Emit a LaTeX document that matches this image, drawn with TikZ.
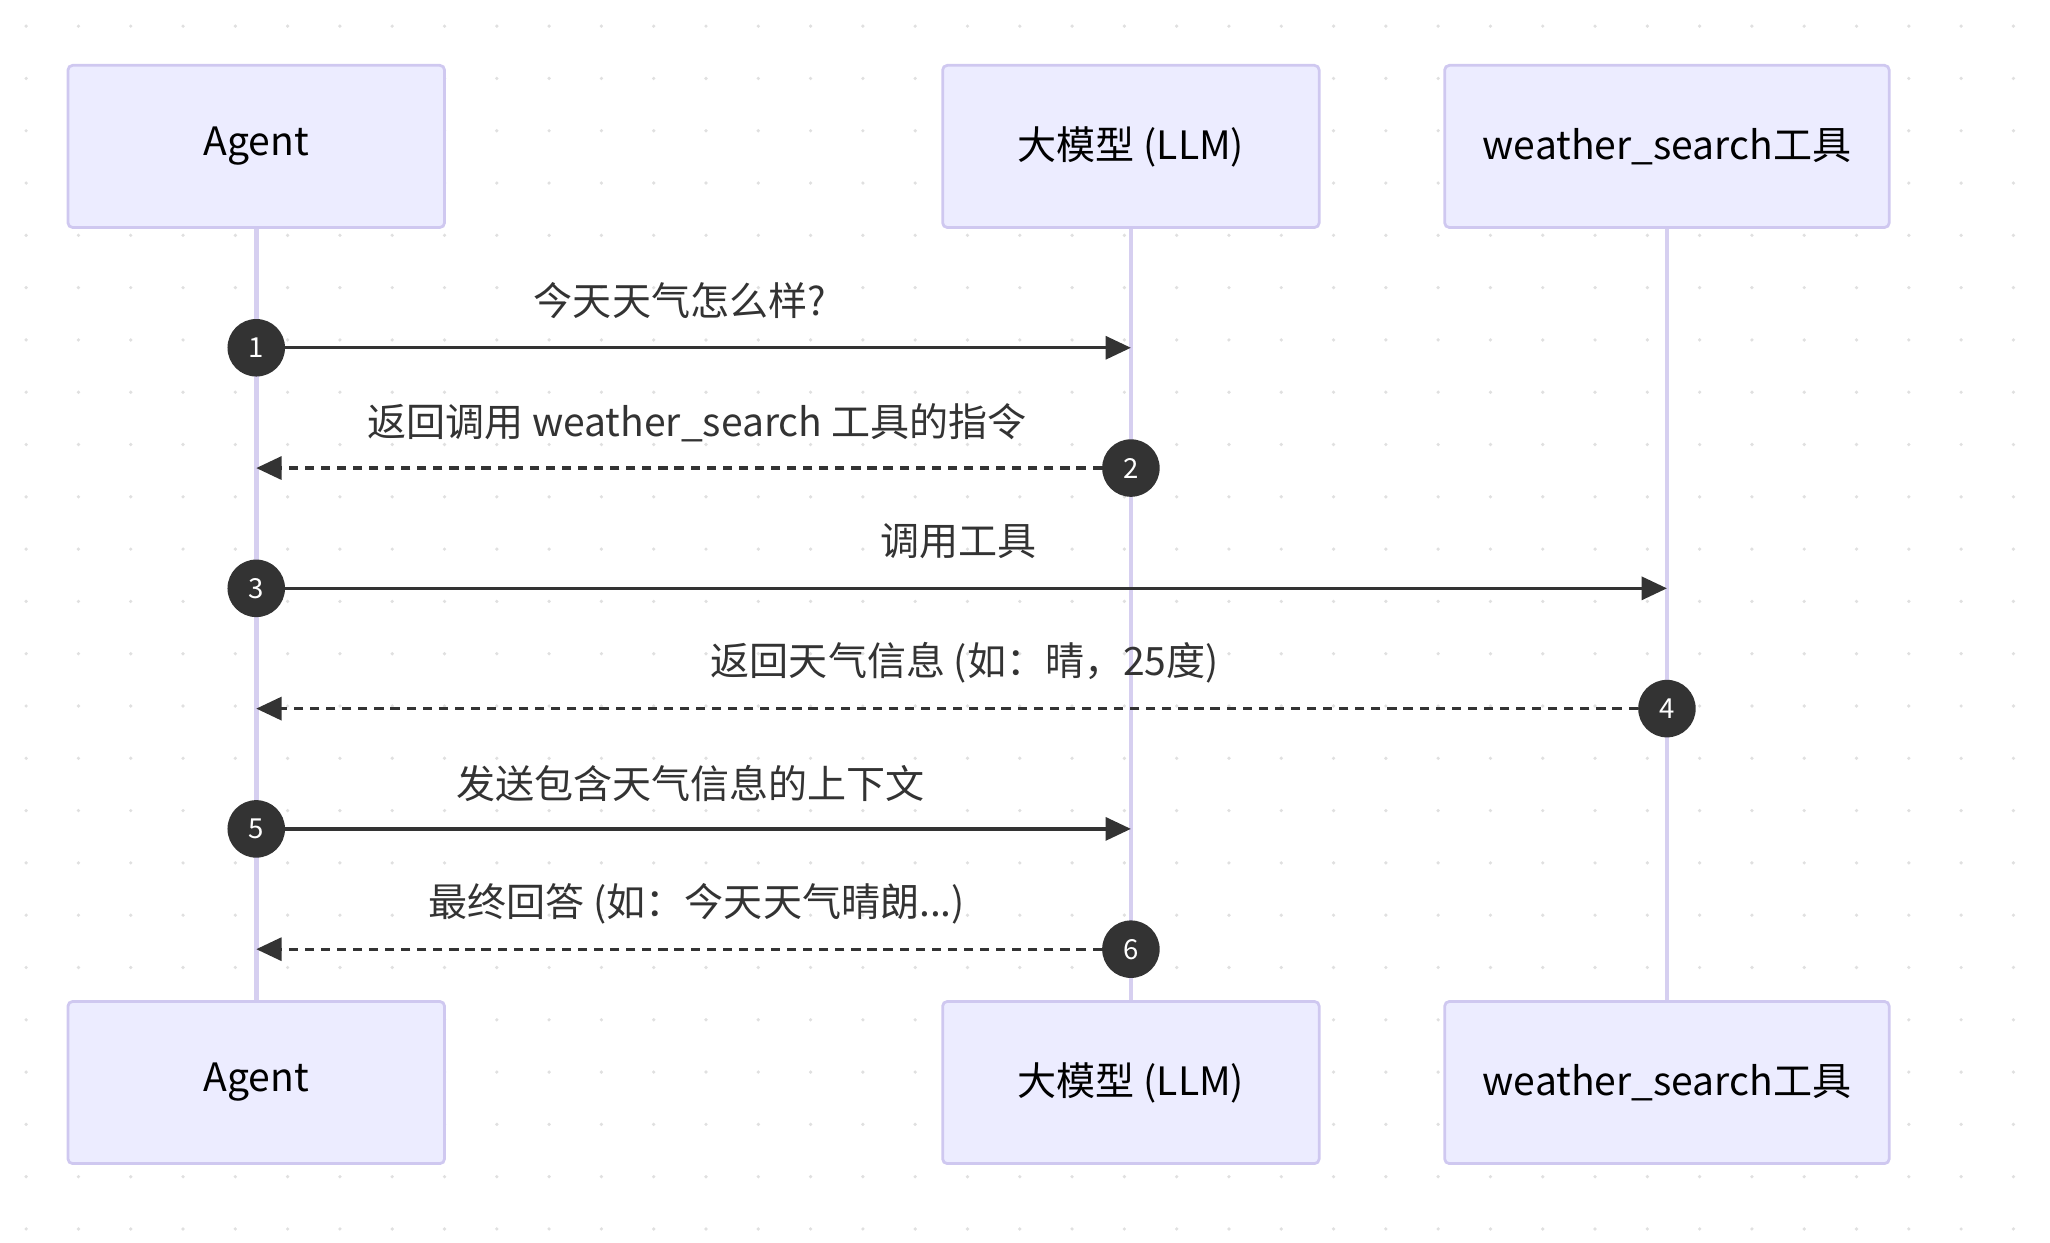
\documentclass[tikz,border=0pt]{standalone}
\usepackage{fontspec}
\setmainfont{Noto Sans CJK SC}
\usetikzlibrary{arrows.meta}
\definecolor{boxfill}{HTML}{ECECFF}
\definecolor{boxline}{HTML}{CFC8F0}
\definecolor{lifeline}{HTML}{D6CFF0}
\definecolor{ink}{HTML}{333333}
\tikzset{
  actor/.style={draw=boxline, fill=boxfill, line width=1.2pt, rounded corners=2pt,
    minimum height=124*0.02cm, inner sep=0pt, font=\fontsize{17}{20}\selectfont},
  seqno/.style={circle, fill=ink, text=white, minimum size=44*0.02cm, inner sep=0pt,
    font=\fontsize{12}{14}\selectfont},
  msg/.style={ink, line width=1.4pt, -{Triangle[length=11pt,width=10pt]}},
  reply/.style={msg, dash pattern=on 4pt off 3pt},
  lbl/.style={text=ink, font=\fontsize{17}{20}\selectfont}
}
\begin{document}
\begin{tikzpicture}[x=0.02cm, y=-0.02cm]
  \useasboundingbox (0,0) rectangle (1568,950);
  % background dots
  \foreach \i in {0,...,38} \foreach \j in {0,...,23}
    \fill[black!12] (20+40*\i, 20+40*\j) circle (0.8pt);

  \node[actor, minimum width=288*0.02cm] (at) at (196,112) {Agent};
  \node[actor, minimum width=288*0.02cm] (lt) at (865,112) {大模型 (LLM)};
  \node[actor, minimum width=340*0.02cm] (wt) at (1275,112) {weather\_search工具};
  \node[actor, minimum width=288*0.02cm] (ab) at (196,828) {Agent};
  \node[actor, minimum width=288*0.02cm] (lb) at (865,828) {大模型 (LLM)};
  \node[actor, minimum width=340*0.02cm] (wb) at (1275,828) {weather\_search工具};

  \draw[lifeline, line width=2pt] (at) -- (ab);
  \draw[lifeline, line width=2pt] (lt) -- (lb);
  \draw[lifeline, line width=2pt] (wt) -- (wb);

  \coordinate (l1) at (865,266);
  \coordinate (a2) at (196,358);
  \coordinate (w3) at (1275,450);
  \coordinate (a4) at (196,542);
  \coordinate (l5) at (865,634);
  \coordinate (a6) at (196,726);

  \node[seqno] (s1) at (196,266) {1};
  \node[seqno] (s2) at (865,358) {2};
  \node[seqno] (s3) at (196,450) {3};
  \node[seqno] (s4) at (1275,542) {4};
  \node[seqno] (s5) at (196,634) {5};
  \node[seqno] (s6) at (865,726) {6};

  \draw[msg] (s1) -- (l1);
  \draw[reply] (s2) -- (a2);
  \draw[msg] (s3) -- (w3);
  \draw[reply] (s4) -- (a4);
  \draw[msg] (s5) -- (l5);
  \draw[reply] (s6) -- (a6);

  \node[lbl] (m1) at (520,230) {今天天气怎么样?};
  \node[lbl] (m2) at (533,323) {返回调用 weather\_search 工具的指令};
  \node[lbl] (m3) at (733,414) {调用工具};
  \node[lbl] (m4) at (738,507) {返回天气信息 (如：晴，25度)};
  \node[lbl] (m5) at (528,599) {发送包含天气信息的上下文};
  \node[lbl] (m6) at (533,691) {最终回答 (如：今天天气晴朗...)};
\end{tikzpicture}
\end{document}
